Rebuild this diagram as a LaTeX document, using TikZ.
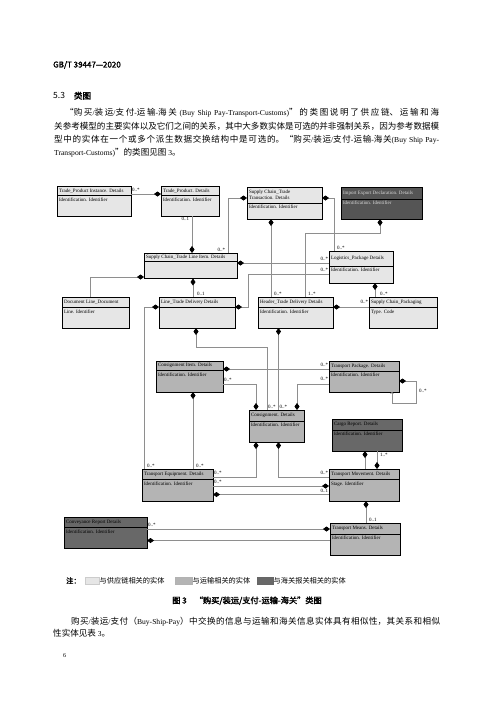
\documentclass[tikz,border=0pt]{standalone}
\usepackage{fontspec}
\setmainfont{Liberation Serif}
\newfontfamily\cjk{Noto Sans CJK SC}
\newfontfamily\cjkb[FakeBold=2]{Noto Sans CJK SC}
\usetikzlibrary{arrows.meta,calc}
\XeTeXlinebreaklocale "zh"
\XeTeXlinebreakskip=0pt plus 2pt
\definecolor{scfill}{HTML}{E6E6E6}
\definecolor{trfill}{HTML}{B4B4B4}
\definecolor{cufill}{HTML}{686868}
\definecolor{iefill}{HTML}{555555}
\definecolor{lnc}{HTML}{8E8E8E}
\newcommand\zh[1]{{\cjk\fontsize{8.55}{13.1}\selectfont #1}}
\tikzset{
  ubox/.style={draw=black, line width=1pt, inner sep=0pt, outer sep=0pt, anchor=north west},
  divl/.style={draw=black, line width=0.7pt},
  ttl/.style={font=\fontsize{5}{5.8}\selectfont, anchor=west, inner xsep=1.8pt, inner ysep=0pt, align=left},
  atr/.style={font=\fontsize{5}{5.8}\selectfont, anchor=north west, inner xsep=1.8pt, inner ysep=2.2pt},
  conn/.style={draw=lnc, line width=0.7pt},
  dmd/.tip={Diamond[length=7pt,width=5pt,color=black,fill=black]},
  lbl/.style={font=\fontsize{5}{5}\selectfont, inner sep=0.8pt},
  txt/.style={inner sep=0pt},
}
\newcommand\umlbox[9]{%
  \node[ubox, fill=#7, minimum width=#4, minimum height=#5] (#1) at (#2,#3) {};
  \draw[divl] (#1.north west) ++(0,#6) -- ++(#4,0);
  \node[ttl] (#1-t) at ($(#1.north west)+(0,#6/2)$) {#8};
  \node[atr] (#1-a) at ($(#1.north west)+(0,#6)$) {#9};
}
\begin{document}
\begin{tikzpicture}[x=1pt,y=-1pt]
\fill[white] (0,0) rectangle (500,707);
\useasboundingbox (0,0) rectangle (500,707);

% ---------- header text ----------
\node[txt, anchor=west, font=\cjkb\fontsize{8}{9}\selectfont] (hdr) at (53,65) {GB/T 39447—2020};
\node[txt, anchor=west, font=\cjk\fontsize{8.5}{10}\selectfont] (sec) at (53,95.7) {5.3\hspace{9pt}{\cjkb 类图}};
\node[txt, anchor=north west, text width=385pt, align=justify, font=\fontsize{7.6}{13.1}\selectfont] (para1) at (54,108.5)
 {\hspace*{11pt}\zh{“购买}/\zh{装运}/\zh{支付}-\zh{运输}-\zh{海关} (Buy Ship Pay-Transport-Customs)\zh{”的类图说明了供应链、运输和海}\linebreak
  \zh{关参考模型的主要实体以及它们之间的关系，其中大多数实体是可选的并非强制关系，因为参考数据模}\linebreak
  \zh{型中的实体在一个或多个派生数据交换结构中是可选的。“购买}/\zh{装运}/\zh{支付}-\zh{运输}-\zh{海关}(Buy Ship Pay-\linebreak
  Transport-Customs)\zh{”的类图见图} 3\zh{。}};

% ---------- boxes ----------
\umlbox{tpi}{57}{186}{74}{30}{9.5}{scfill}{Trade\_Product Instance. Details}{Identification. Identifier}
\umlbox{tp}{161}{186}{58}{30}{9.5}{scfill}{Trade\_Product. Details}{Identification. Identifier}
\umlbox{sct}{247}{187}{75}{32}{16}{scfill}{Supply Chain\_Trade\\Transaction. Details}{Identification. Identifier}
\umlbox{ied}{341}{187}{81}{32}{12}{iefill}{\textcolor{white!85!black}{Import Export Declaration. Details}}{\textcolor{white!85!black}{Identification. Identifier}}
\umlbox{scli}{144}{253}{93}{25.5}{8.5}{scfill}{Supply Chain\_Trade Line Item. Details}{}
\umlbox{lpd}{329}{251}{64}{32}{15}{scfill}{Logistics\_Package Details}{Identification. Identifier}
\umlbox{dld}{62}{297}{67}{31}{10.5}{scfill}{Document Line\_Document}{Line. Identifier}
\umlbox{ltd}{159}{297}{76}{31}{10.5}{scfill}{Line\_Trade Delivery Details}{}
\umlbox{htd}{258}{297}{75}{31}{10.5}{scfill}{Header\_Trade Delivery Details}{Identification. Identifier}
\umlbox{scp}{369}{297}{68}{31}{10.5}{scfill}{Supply Chain\_Packaging}{Type. Code}
\umlbox{cid}{156}{361}{67}{31}{9.5}{trfill}{Consignment Item. Details}{Identification. Identifier}
\umlbox{cd}{249}{410}{55}{32}{11}{trfill}{Consignment. Details}{Identification. Identifier}
\umlbox{tpd}{329}{361}{70}{31}{10}{trfill}{Transport Package. Details}{Identification. Identifier}
\umlbox{crd}{332}{419}{70}{32}{11}{cufill}{Cargo Report. Details}{Identification. Identifier}
\umlbox{ted}{142}{469}{71}{32}{10.5}{trfill}{Transport Equipment. Details}{Identification. Identifier}
\umlbox{tmd}{329}{469}{70}{32}{10.5}{trfill}{Transport Movement. Details}{Stage. Identifier}
\umlbox{cvr}{64}{517}{83}{31}{10.5}{cufill}{Conveyance Report Details}{Identification. Identifier}
\umlbox{tmn}{330}{523}{70}{32}{11}{trfill}{Transport Means. Details}{Identification. Identifier}

% ---------- connectors ----------
\draw[conn, -dmd] (tpi.east |- 0,194) -- (tp.west |- 0,194);
\node[lbl, anchor=south west] (l1) at (tpi.east |- 0,193) {0..*};
\draw[conn, -dmd] (tp.south -| 192,0) -- (scli.north -| 192,0);
\node[lbl, anchor=north east] (l2) at (tp.south -| 190,0) {0..1};
\draw[conn, -dmd] (scli.north -| 228,0) |- (sct.west |- 0,198);
\node[lbl, anchor=south east] (l3) at (scli.north -| 226,0) {0..*};
\draw[conn, dmd-] (sct.east |- 0,198) -| (lpd.north -| 334,0);
\node[lbl, anchor=south west] (l4) at (lpd.north -| 336,0) {0..*};
\draw[conn, dmd-] (sct.south -| 271,0) -- (htd.north -| 271,0);
\node[lbl, anchor=south west] (l5) at (htd.north -| 273,0) {0..*};
\draw[conn, dmd-] (ied.south -| 380,0) -- (380,233) -| (htd.north -| 305,0);
\node[lbl, anchor=south west] (l6) at (htd.north -| 307,0) {1..*};
\draw[conn, dmd-] (scli.east |- 0,263) -- (lpd.west |- 0,263);
\node[lbl, anchor=south east] (l7) at (lpd.west |- 0,262) {0..*};
\draw[conn, dmd-] (ltd.east |- 0,307) -- (248,307) |- (lpd.west |- 0,274);
\node[lbl, anchor=south east] (l8) at (lpd.west |- 0,273) {0..*};
\draw[conn, dmd-] (lpd.south -| 375,0) -- (scp.north -| 375,0);
\node[lbl, anchor=south west] (l9) at (scp.north -| 379,0) {0..*};
\draw[conn, dmd-] (htd.east |- 0,307) -- (scp.west |- 0,307);
\node[lbl, anchor=south east] (l10) at (scp.west |- 0,305) {0..*};
\draw[conn, -dmd] (dld.north -| 90,0) |- (scli.west |- 0,277);
\draw[conn, dmd-] (scli.south -| 193,0) -- (ltd.north -| 193,0);
\node[lbl, anchor=south west] (l12) at (ltd.north -| 196,0) {0..1};
\draw[conn, dmd-] (ltd.west |- 0,307) -| (ted.north -| 144,0);
\node[lbl, anchor=south west] (l13) at (ted.north -| 146,0) {0..*};
\draw[conn, dmd-] (ltd.south -| 196,0) -- (196,347) -| (cd.north -| 267,0);
\node[lbl, anchor=south west] (l14) at (cd.north -| 267,0) {0..*};
\draw[conn, dmd-] (htd.south -| 278.5,0) -- (cd.north -| 278.5,0);
\node[lbl, anchor=south west] (l15) at (cd.north -| 278.5,0) {0..*};
\draw[conn, dmd-] (cid.east |- 0,369) -- (tpd.west |- 0,369);
\node[lbl, anchor=south east] (l16) at (tpd.west |- 0,368) {0..*};
\draw[conn, -dmd] (cid.east |- 0,384) -| (cd.north -| 256,0);
\node[lbl, anchor=south west] (l17) at (cid.east |- 0,383) {0..*};
\draw[conn, -dmd] (tpd.west |- 0,384) -| (cd.north -| 297,0);
\node[lbl, anchor=south east] (l18) at (tpd.west |- 0,382) {0..*};
\draw[conn, dmd-{To[length=2pt,width=3.5pt]}] (tpd.east |- 0,381) -- (416,381) |- (392,403) -- (tpd.south -| 392,0);
\node[lbl, anchor=west] (l19) at (418,391) {0..*};
\draw[conn, dmd-] (cid.south -| 193,0) -- (ted.north -| 193,0);
\node[lbl, anchor=south west] (l20) at (ted.north -| 195,0) {0..*};
\draw[conn, dmd-] (cd.south -| 256,0) |- (ted.east |- 0,477);
\node[lbl, anchor=south west] (l21) at (ted.east |- 0,476) {0..*};
\draw[conn, dmd-] (cd.south -| 278.5,0) |- (tmd.west |- 0,477);
\node[lbl, anchor=south east] (l22) at (tmd.west |- 0,476) {0..*};
\draw[conn, -dmd] (ted.east |- 0,486) -- (tmd.west |- 0,486);
\node[lbl, anchor=south west] (l23) at (ted.east |- 0,485) {0..*};
\draw[conn, dmd-] (ted.east |- 0,494.5) -- (tmd.west |- 0,494.5);
\node[lbl, anchor=south east] (l24) at (tmd.west |- 0,494) {0..1};
\draw[conn, dmd-] (crd.south -| 365,0) -- (tmd.north -| 365,0);
\draw[conn, -dmd] (crd.south -| 377,0) -- (tmd.north -| 377,0);
\node[lbl, anchor=west] (l26) at (379,455) {1..*};
\draw[conn, dmd-] (tmd.south -| 366,0) -- (tmn.north -| 366,0);
\node[lbl, anchor=south west] (l27) at (tmn.north -| 368,0) {0..1};
\draw[conn, -dmd] (cvr.east |- 0,529) -- (tmn.west |- 0,529);
\node[lbl, anchor=south west] (l28) at (cvr.east |- 0,528) {0..*};
\draw[conn, dmd-] (cvr.east |- 0,540.5) -- (tmn.west |- 0,540.5);

% ---------- legend ----------
\node[txt, anchor=west, font=\cjkb\fontsize{7.2}{8}\selectfont] (note) at (66,580.7) {注：};
\filldraw[fill=scfill, draw=gray!40] (85,577.5) rectangle (99,584);
\node[txt, anchor=west, font=\cjk\fontsize{7.2}{8}\selectfont] (lg1) at (99.5,580.7) {与供应链相关的实体};
\filldraw[fill=trfill, draw=gray!60] (175,577.5) rectangle (192,584);
\node[txt, anchor=west, font=\cjk\fontsize{7.2}{8}\selectfont] (lg2) at (192.5,580.7) {与运输相关的实体};
\filldraw[fill=cufill, draw=gray!80!black] (257,577.5) rectangle (273,584);
\node[txt, anchor=west, font=\cjk\fontsize{7.2}{8}\selectfont] (lg3) at (273.5,580.7) {与海关报关相关的实体};

% ---------- caption & text ----------
\node[txt, anchor=center, font=\cjkb\fontsize{8.2}{9}\selectfont] (cap) at (247,600.7) {图 3\hspace{8pt}“购买/装运/支付-运输-海关”类图};
\node[txt, anchor=north west, text width=387pt, align=justify, font=\fontsize{7.6}{12}\selectfont] (para2) at (53,616.5)
 {\hspace*{18pt}\zh{购买}/\zh{装运}/\zh{支付（}Buy-Ship-Pay\zh{）中交换的信息与运输和海关信息实体具有相似性，其关系和相似}\linebreak
  \zh{性实体见表} 3\zh{。}};
\node[txt, anchor=west, font=\fontsize{6}{7}\selectfont] (pg) at (63,656) {6};
\end{tikzpicture}
\end{document}
